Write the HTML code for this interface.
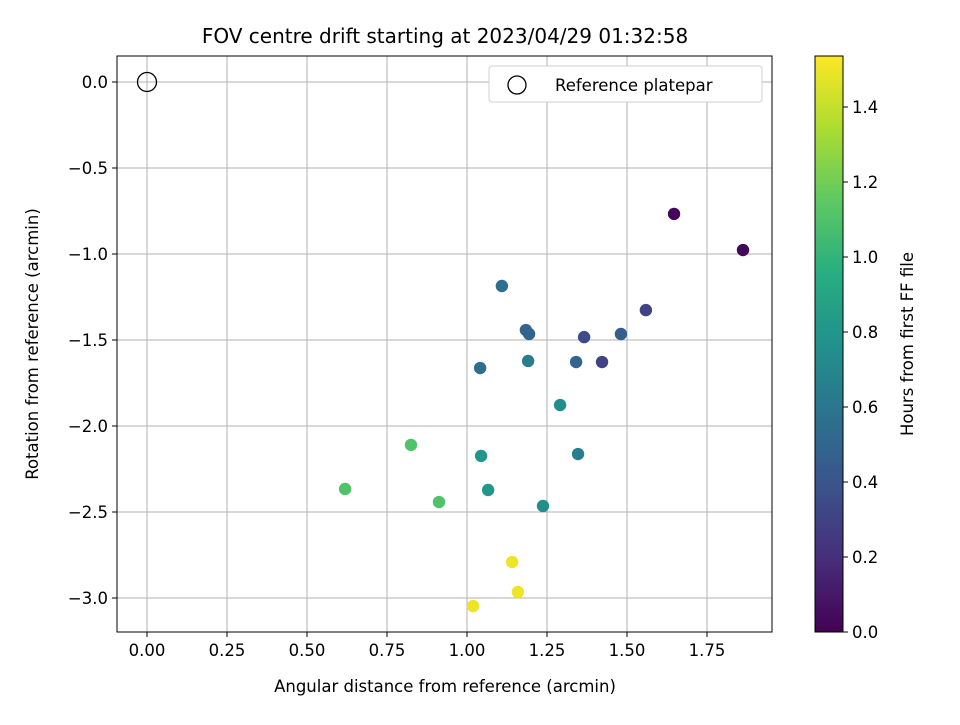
<!DOCTYPE html>
<html><head><meta charset="utf-8"><style>
body{margin:0;background:#fff;}
svg text{font-family:"DejaVu Sans","Liberation Sans",sans-serif;}
</style></head><body>
<svg id="chart" width="960" height="720" xmlns="http://www.w3.org/2000/svg">
<defs><linearGradient id="vir" x1="0" y1="1" x2="0" y2="0">
<stop offset="0" stop-color="#440154"/><stop offset="0.125" stop-color="#472d7b"/><stop offset="0.25" stop-color="#3b528b"/><stop offset="0.375" stop-color="#2c728e"/><stop offset="0.5" stop-color="#21918c"/><stop offset="0.625" stop-color="#28ae80"/><stop offset="0.75" stop-color="#5ec962"/><stop offset="0.875" stop-color="#addc30"/><stop offset="1" stop-color="#fde725"/></linearGradient></defs>
<text x="445" y="43" font-size="20" text-anchor="middle">FOV centre drift starting at 2023/04/29 01:32:58</text>
<g id="grid"></g><g id="pts"></g>
<rect x="117" y="56" width="655" height="576" fill="none" stroke="#000" stroke-width="1"/>
<g id="ticks"></g>
<text x="445" y="692" font-size="16.5" text-anchor="middle">Angular distance from reference (arcmin)</text>
<text transform="translate(38,344) rotate(-90)" font-size="16.5" text-anchor="middle">Rotation from reference (arcmin)</text>
<g>
<rect x="489" y="66" width="273" height="36" rx="3" fill="#fff" stroke="#d0d0d0"/>
<circle cx="517" cy="85" r="9" fill="none" stroke="#000" stroke-width="1.3"/>
<text x="555" y="91" font-size="16.5">Reference platepar</text></g>
<rect x="815" y="56" width="28" height="576" fill="url(#vir)" stroke="#000" stroke-width="1"/>
<g id="cbticks"></g>
<text transform="translate(913,344) rotate(-90)" font-size="16.5" text-anchor="middle">Hours from first FF file</text>
</svg>
<script>
const xs=[1.647,1.8625,1.559,1.481,1.366,1.422,1.341,1.184,1.194,1.109,1.041,1.191,1.291,1.347,1.044,1.066,1.2375,0.825,0.619,0.9125,1.141,1.159,1.019];
const ys=[-0.767,-0.977,-1.326,-1.465,-1.483,-1.628,-1.628,-1.442,-1.465,-1.186,-1.663,-1.622,-1.878,-2.163,-2.174,-2.372,-2.465,-2.11,-2.366,-2.442,-2.791,-2.965,-3.047];
const hours=[0.02,0.03,0.3,0.45,0.35,0.3,0.5,0.5,0.5,0.55,0.55,0.65,0.75,0.65,0.8,0.8,0.75,1.1,1.1,1.1,1.5,1.5,1.5];
const xTicks=[0,0.25,0.5,0.75,1.0,1.25,1.5,1.75];
const yTicks=[0,-0.5,-1.0,-1.5,-2.0,-2.5,-3.0];
const cTicks=[0,0.2,0.4,0.6,0.8,1.0,1.2,1.4];
const X=v=>147+v*320, Y=v=>82-v*172, C=v=>632-v*375, cmax=1.536;
const NS="http://www.w3.org/2000/svg";
function mk(p,t,a){const e=document.createElementNS(NS,t);for(const k in a)e.setAttribute(k,a[k]);document.getElementById(p).appendChild(e);return e;}
const vs=[[68,1,84],[71,45,123],[59,82,139],[44,114,142],[33,145,140],[40,174,128],[94,201,98],[173,220,48],[253,231,37]];
function vir(t){t=Math.max(0,Math.min(1,t))*8;const i=Math.min(7,Math.floor(t)),f=t-i;const a=vs[i],b=vs[i+1];return `rgb(${a.map((c,k)=>Math.round(c+(b[k]-c)*f)).join(',')})`;}
const fmt=v=>(v<0?'\u2212':'')+Math.abs(v).toFixed(1);
xTicks.forEach(v=>{
 let l=mk('grid','line',{x1:X(v),x2:X(v),y1:56,y2:632,stroke:'#b0b0b0','stroke-width':1});
 
 let t=mk('ticks','line',{x1:X(v),x2:X(v),y1:632,y2:637,stroke:'#000'});
 
 let s=mk('ticks','text',{x:X(v),y:656,'font-size':16.5,'text-anchor':'middle'});s.textContent=v.toFixed(2);
 
});
yTicks.forEach(v=>{
 let l=mk('grid','line',{x1:117,x2:772,y1:Y(v),y2:Y(v),stroke:'#b0b0b0','stroke-width':1});
 
 let t=mk('ticks','line',{x1:112,x2:117,y1:Y(v),y2:Y(v),stroke:'#000'});
 
 let s=mk('ticks','text',{x:108,y:Y(v)+6,'font-size':16.5,'text-anchor':'end'});s.textContent=fmt(v);
 
});
cTicks.forEach(v=>{
 let t=mk('cbticks','line',{x1:843,x2:848,y1:C(v),y2:C(v),stroke:'#000'});
 
 let s=mk('cbticks','text',{x:852,y:C(v)+6,'font-size':16.5});s.textContent=v.toFixed(1);
 
});
let r=mk('pts','circle',{cx:X(0),cy:Y(0),r:9.5,fill:'none',stroke:'#000','stroke-width':1.3});

xs.forEach((x,i)=>{
 let c=mk('pts','circle',{cx:X(x),cy:Y(ys[i]),r:6.2,fill:vir(hours[i]/cmax)});
 
});
</script>
</body></html>
